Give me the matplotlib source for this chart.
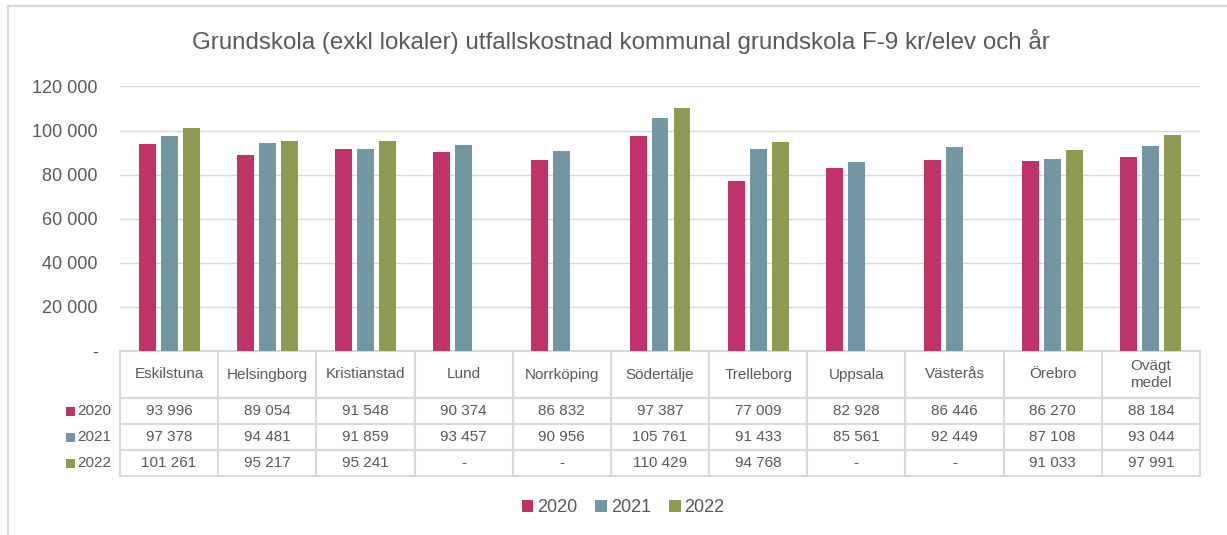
import matplotlib
matplotlib.use("Agg")
import matplotlib.pyplot as plt
import numpy as np
from matplotlib.patches import Patch, Rectangle
from matplotlib.lines import Line2D

plt.rcParams['font.family'] = ['Liberation Sans', 'DejaVu Sans']

title = "Grundskola (exkl lokaler) utfallskostnad kommunal grundskola F-9 kr/elev och år"
categories = ["Eskilstuna", "Helsingborg", "Kristianstad", "Lund", "Norrköping",
              "Södertälje", "Trelleborg", "Uppsala", "Västerås", "Örebro", "Ovägt\nmedel"]
years = ["2020", "2021", "2022"]
v2020 = [93996, 89054, 91548, 90374, 86832, 97387, 77009, 82928, 86446, 86270, 88184]
v2021 = [97378, 94481, 91859, 93457, 90956, 105761, 91433, 85561, 92449, 87108, 93044]
v2022 = [101261, 95217, 95241, None, None, 110429, 94768, None, None, 91033, 97991]
yticks = [0, 20000, 40000, 60000, 80000, 100000, 120000]

colors = ["#C0336A", "#7397A2", "#8E9A51"]
text_color = "#595959"
grid_color = "#D9D9D9"

W, H = 1227, 535
fig = plt.figure(figsize=(W / 100, H / 100), dpi=100)

ax_l, ax_r, ax_t, ax_b = 120, 1200, 86.5, 351
ax = fig.add_axes([ax_l / W, 1 - ax_b / H, (ax_r - ax_l) / W, (ax_b - ax_t) / H])

series = [v2020, v2021, v2022]
x = np.arange(len(categories))
bw = 0.173
off = 0.224
for i, (vals, c) in enumerate(zip(series, colors)):
    xs = [xi + (i - 1) * off for xi, v in zip(x, vals) if v is not None]
    ys = [v for v in vals if v is not None]
    ax.bar(xs, ys, width=bw, color=c, zorder=3)

ax.set_xlim(-0.5, len(categories) - 0.5)
ax.set_ylim(0, 120000)
ax.set_yticks(yticks)
ax.set_yticklabels(["-" if t == 0 else f"{t:,}".replace(",", " ") for t in yticks],
                   fontsize=13, color=text_color)
ax.tick_params(axis='y', length=0, pad=16)
ax.set_xticks([])
for s in ax.spines.values():
    s.set_visible(False)
ax.grid(axis='y', color=grid_color, linewidth=1.0, zorder=0)
ax.set_axisbelow(True)

# data table
def fmt(v):
    return "-" if v is None else f"{v:,}".replace(",", " ")

cell_text = [[fmt(v) for v in vals] for vals in series]
ax_h = ax_b - ax_t
ax_w = ax_r - ax_l
hdr_h = 47 / ax_h
row_h = 26 / ax_h
col_w = 1 / len(categories)
lab_w = 60 / ax_w
tbl = ax.table(cellText=cell_text, rowLabels=years,
               colLabels=categories, cellLoc='center', rowLoc='left',
               bbox=[0, -(hdr_h + 3 * row_h), 1, hdr_h + 3 * row_h])
tbl.auto_set_font_size(False)
for (r, c), cell in tbl.get_celld().items():
    cell.set_edgecolor(grid_color)
    cell.set_linewidth(1.5)
    cell.set_height(hdr_h if r == 0 else row_h)
    cell.set_width(lab_w if c == -1 else col_w)
    t = cell.get_text()
    t.set_fontsize(11)
    t.set_color(text_color)
    if c == -1:
        t.set_text("")
for i, c in enumerate(colors):
    yc = 1 - (ax_b + 47 + (i + 0.5) * 26) / H
    fig.add_artist(Rectangle((66 / W, yc - 4.5 / H), 9 / W, 9 / H, facecolor=c,
                             edgecolor='none', transform=fig.transFigure))
    fig.text(77 / W, yc, years[i], fontsize=11, color=text_color, ha='left', va='center')

fig.text(621 / W, 1 - 42 / H, title, ha='center', va='center', fontsize=17.4, color=text_color)

handles = [Patch(facecolor=c, label=y) for c, y in zip(colors, years)]
fig.legend(handles=handles, loc='center', bbox_to_anchor=(623 / W, 1 - 508 / H), ncol=3,
           frameon=False, fontsize=13, labelcolor=text_color, handlelength=0.65,
           handleheight=0.65, handletextpad=0.2, columnspacing=1.0)

# outer frame
fig.add_artist(Line2D([8 / W, 1], [1 - 6 / H, 1 - 6 / H], color=grid_color, lw=1.5,
                      transform=fig.transFigure))
fig.add_artist(Line2D([8 / W, 8 / W], [1 - 6 / H, 0], color=grid_color, lw=1.5,
                      transform=fig.transFigure))

fig.savefig("out.png", dpi=100, facecolor="white")
